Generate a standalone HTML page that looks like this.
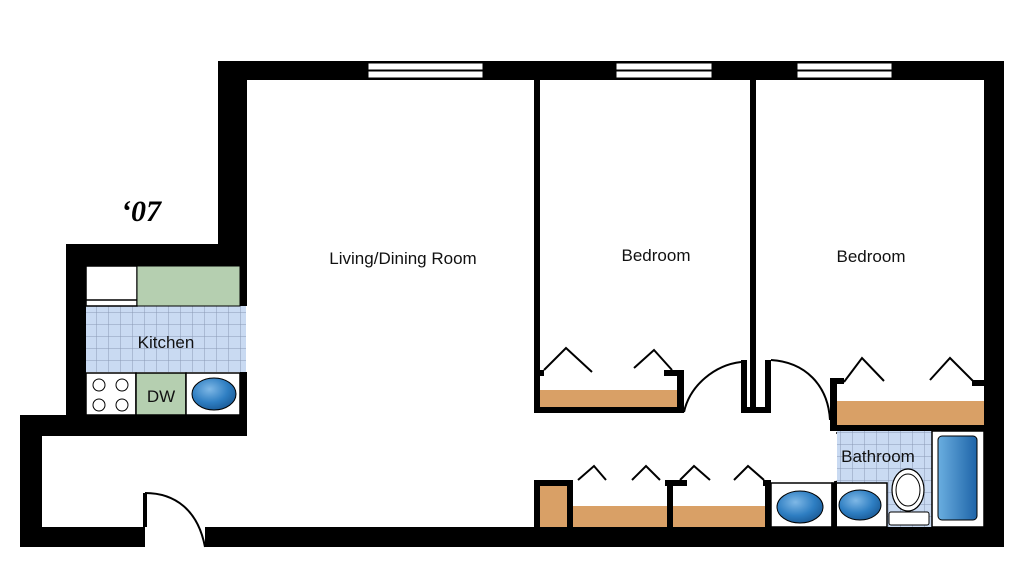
<!DOCTYPE html>
<html><head><style>html,body{margin:0;padding:0;background:#fff;}svg{display:block}</style></head>
<body>
<svg width="1024" height="576" viewBox="0 0 1024 576" xmlns="http://www.w3.org/2000/svg">
<defs>
<pattern id="tile" width="12" height="12" patternUnits="userSpaceOnUse">
<rect width="12" height="12" fill="#c9daf2"/>
<path d="M0 0H12M0 0V12" stroke="#8a9ab5" stroke-width="1"/>
</pattern>
<radialGradient id="blue" cx="40%" cy="35%" r="70%">
<stop offset="0" stop-color="#7fb8e6"/><stop offset="0.6" stop-color="#2e7ec2"/><stop offset="1" stop-color="#1a5a96"/>
</radialGradient>
<linearGradient id="tub" x1="0" x2="1"><stop offset="0" stop-color="#6aaee0"/><stop offset="1" stop-color="#1e64a8"/></linearGradient>
</defs>
<rect x="86" y="306" width="160" height="66" fill="url(#tile)"/>
<rect x="86" y="266" width="51" height="40" fill="#fff" stroke="#000" stroke-width="1.5"/>
<line x1="86" y1="300" x2="137" y2="300" stroke="#000" stroke-width="1.5"/>
<rect x="137" y="266" width="103" height="40" fill="#b5cfb0" stroke="#000" stroke-width="1"/>
<rect x="86" y="373" width="50" height="42" fill="#fff" stroke="#000" stroke-width="1.5"/>
<g fill="none" stroke="#000" stroke-width="1"><circle cx="99" cy="385" r="6"/><circle cx="122" cy="385" r="6"/><circle cx="99" cy="405" r="6"/><circle cx="122" cy="405" r="6"/></g>
<rect x="136" y="373" width="50" height="42" fill="#b5cfb0" stroke="#000" stroke-width="1.5"/>
<rect x="186" y="373" width="54" height="42" fill="#fff" stroke="#000" stroke-width="1.5"/>
<ellipse cx="214" cy="394" rx="22" ry="16" fill="url(#blue)" stroke="#000"/>
<text x="166" y="348" font-family="Liberation Sans, sans-serif" font-size="17" text-anchor="middle" fill="#111">Kitchen</text>
<text x="161" y="402" font-family="Liberation Sans, sans-serif" font-size="17" text-anchor="middle" fill="#111">DW</text>
<g fill="#000">
<rect x="218" y="61" width="786" height="19"/>
<rect x="984" y="61" width="20" height="486"/>
<rect x="205" y="527" width="799" height="20"/>
<rect x="218" y="61" width="29" height="205"/>
<rect x="66" y="244" width="180" height="22"/>
<rect x="240" y="244" width="7" height="62"/>
<rect x="240" y="372" width="7" height="64"/>
<rect x="66" y="244" width="20" height="192"/>
<rect x="20" y="415" width="226" height="21"/>
<rect x="20" y="415" width="22" height="132"/>
<rect x="20" y="527" width="125" height="20"/>
<rect x="534" y="80" width="6" height="333"/>
<rect x="750" y="80" width="6" height="333"/>
<rect x="741" y="360" width="6" height="53"/>
<rect x="765" y="360" width="6" height="53"/>
<rect x="741" y="407" width="30" height="6"/>
<rect x="534" y="407" width="150" height="6"/>
<rect x="677" y="370" width="7" height="43"/>
<rect x="534" y="370" width="10" height="6"/>
<rect x="664" y="370" width="20" height="6"/>
<rect x="830" y="378" width="7" height="52"/>
<rect x="830" y="378" width="14" height="6"/>
<rect x="972" y="380" width="12" height="6"/>
<rect x="830" y="425" width="154" height="6"/>
<rect x="534" y="480" width="6" height="47"/>
<rect x="534" y="480" width="36" height="6"/>
<rect x="567" y="480" width="6" height="47"/>
<rect x="665" y="480" width="22" height="6"/>
<rect x="667" y="480" width="6" height="47"/>
<rect x="763" y="480" width="8" height="6"/>
<rect x="765" y="480" width="6" height="47"/>
</g>
<g fill="#fff" stroke="#000" stroke-width="1">
<rect x="368" y="63" width="115" height="7"/><rect x="368" y="71" width="115" height="7"/>
<rect x="616" y="63" width="96" height="7"/><rect x="616" y="71" width="96" height="7"/>
<rect x="797" y="63" width="95" height="7"/><rect x="797" y="71" width="95" height="7"/>
</g>
<g fill="#d9a066">
<rect x="540" y="390" width="137" height="17"/>
<rect x="837" y="401" width="147" height="24"/>
<rect x="540" y="486" width="27" height="41"/>
<rect x="573" y="506" width="94" height="21"/>
<rect x="673" y="506" width="92" height="21"/>
</g>
<g fill="none" stroke="#000" stroke-width="2">
<path d="M544 370L566 348L592 372M634 368L654 350L672 370"/>
<path d="M844 382L862 358L884 381M930 380L950 358L976 384"/>
<path d="M578 480L594 466L606 480M632 480L646 466L660 480M680 480L694 466L710 480M734 480L748 466L764 480"/>
<path d="M684 412C690 385 715 365 741 362"/>
<path d="M771 360C805 362 828 385 830 420"/>
<path d="M145 493C175 493 198 510 205 547"/>
<path d="M836 433H882V445C880 465 860 478 834 482" stroke-width="1.5"/>
</g>
<line x1="145" y1="493" x2="145" y2="527" stroke="#000" stroke-width="4"/>
<rect x="837" y="431" width="95" height="96" fill="url(#tile)"/>
<rect x="932" y="431" width="52" height="96" fill="#fff" stroke="#000" stroke-width="1.5"/>
<rect x="938" y="436" width="39" height="84" rx="4" fill="url(#tub)" stroke="#000"/>
<rect x="771" y="483" width="61" height="44" fill="#fff" stroke="#000" stroke-width="1.5"/>
<rect x="832" y="483" width="55" height="44" fill="#fff" stroke="#000" stroke-width="1.5"/>
<rect x="832" y="483" width="5" height="44" fill="#000"/>
<ellipse cx="800" cy="507" rx="23" ry="16" fill="url(#blue)" stroke="#000"/>
<ellipse cx="860" cy="505" rx="21" ry="15" fill="url(#blue)" stroke="#000"/>
<ellipse cx="908" cy="490" rx="16" ry="21" fill="#fff" stroke="#000" stroke-width="1.2"/>
<ellipse cx="908" cy="490" rx="12" ry="16" fill="#fff" stroke="#000" stroke-width="1"/>
<rect x="889" y="512" width="40" height="13" rx="2" fill="#fff" stroke="#000"/>
<g font-family="Liberation Sans, sans-serif" font-size="17" fill="#111" text-anchor="middle">
<text x="403" y="264">Living/Dining Room</text>
<text x="656" y="261">Bedroom</text>
<text x="871" y="262">Bedroom</text>
<text x="878" y="462">Bathroom</text>
</g>
<text x="141" y="221" font-family="Liberation Serif, serif" font-size="30" font-weight="bold" font-style="italic" text-anchor="middle" fill="#000">‘07</text>
</svg>
</body></html>
